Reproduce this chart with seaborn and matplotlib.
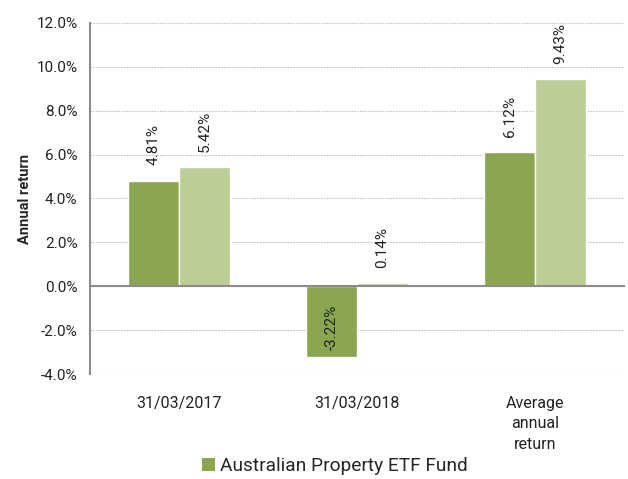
import pandas as pd
import matplotlib.pyplot as plt
import seaborn as sns
from matplotlib.patches import Patch

# chart values
periods = ["31/03/2017", "31/03/2018", "Average\nannual\nreturn"]
fund_returns = [4.81, -3.22, 6.12]
benchmark_returns = [5.42, 0.14, 9.43]
series_names = ["Australian Property ETF Fund", "Benchmark"]
y_ticks = [-4, -2, 0, 2, 4, 6, 8, 10, 12]

df = pd.DataFrame({
    "period": periods * 2,
    "ret": fund_returns + benchmark_returns,
    "series": [series_names[0]] * 3 + [series_names[1]] * 3,
})

sns.set_theme(style="white")
plt.rcParams['font.family'] = ['Roboto', 'DejaVu Sans']

dark_green = '#8AA650'
light_green = '#BACE95'

fig = plt.figure(figsize=(6.28, 4.79), dpi=100)
ax = fig.add_axes([0.1433, 0.2192, 0.8503, 0.7328])

sns.barplot(data=df, x="period", y="ret", hue="series", order=periods,
            hue_order=series_names, palette=[dark_green, light_green],
            width=0.57, saturation=1, ax=ax, legend=False)

ax.set_xlim(-0.5, 2.5)
ax.set_ylim(-4, 12)
ax.set_yticks(y_ticks)
ax.set_yticklabels([f"{t:.1f}%" for t in y_ticks], fontsize=11, color='#222222')
ax.yaxis.grid(True, linestyle=(0, (1.5, 1)), color='#c4c4c4', linewidth=0.8)
ax.set_axisbelow(True)

# spines: left gray, bottom sits on the zero line
for s in ['top', 'right']:
    ax.spines[s].set_visible(False)
ax.spines['left'].set_color('#8c8c8c')
ax.spines['left'].set_linewidth(1.5)
ax.spines['bottom'].set_position(('data', 0))
ax.spines['bottom'].set_color('#8c8c8c')
ax.spines['bottom'].set_linewidth(1.5)
ax.tick_params(axis='y', direction='out', length=5, width=1.2, color='#8c8c8c', pad=4)

# category separators as minor ticks, labels pushed below the plot
ax.set_xticks([0.5, 1.5, 2.5], minor=True)
ax.tick_params(axis='x', which='minor', direction='out', length=5, width=1.2, color='#8c8c8c')
ax.tick_params(axis='x', which='major', length=0, pad=79, labelsize=11.5, labelcolor='#222222')
for lbl in ax.get_xticklabels():
    lbl.set_linespacing(1.45)
ax.set_xlabel("")
ax.set_ylabel("Annual return", fontsize=10.5, fontweight='bold', labelpad=3)

# value labels, rotated
for container in ax.containers:
    for bar in container:
        v = bar.get_height()
        x = bar.get_x() + bar.get_width() / 2
        off = 11 if v >= 0 else 5
        ax.annotate(f"{v:.2f}%", (x, v), xytext=(0, off), textcoords='offset points',
                    rotation=90, ha='center', va='bottom', fontsize=11, color='#222222')

# legend at the bottom edge (only the first entry shown)
handles = [Patch(facecolor=dark_green, edgecolor='none')]
fig.legend(handles, [series_names[0]], loc='upper left',
           bbox_to_anchor=(0.321, 0.046), frameon=False, fontsize=13.8,
           handlelength=0.7, handleheight=0.7, handletextpad=0.25, borderaxespad=0, borderpad=0)

fig.savefig("out.png", dpi=100)
